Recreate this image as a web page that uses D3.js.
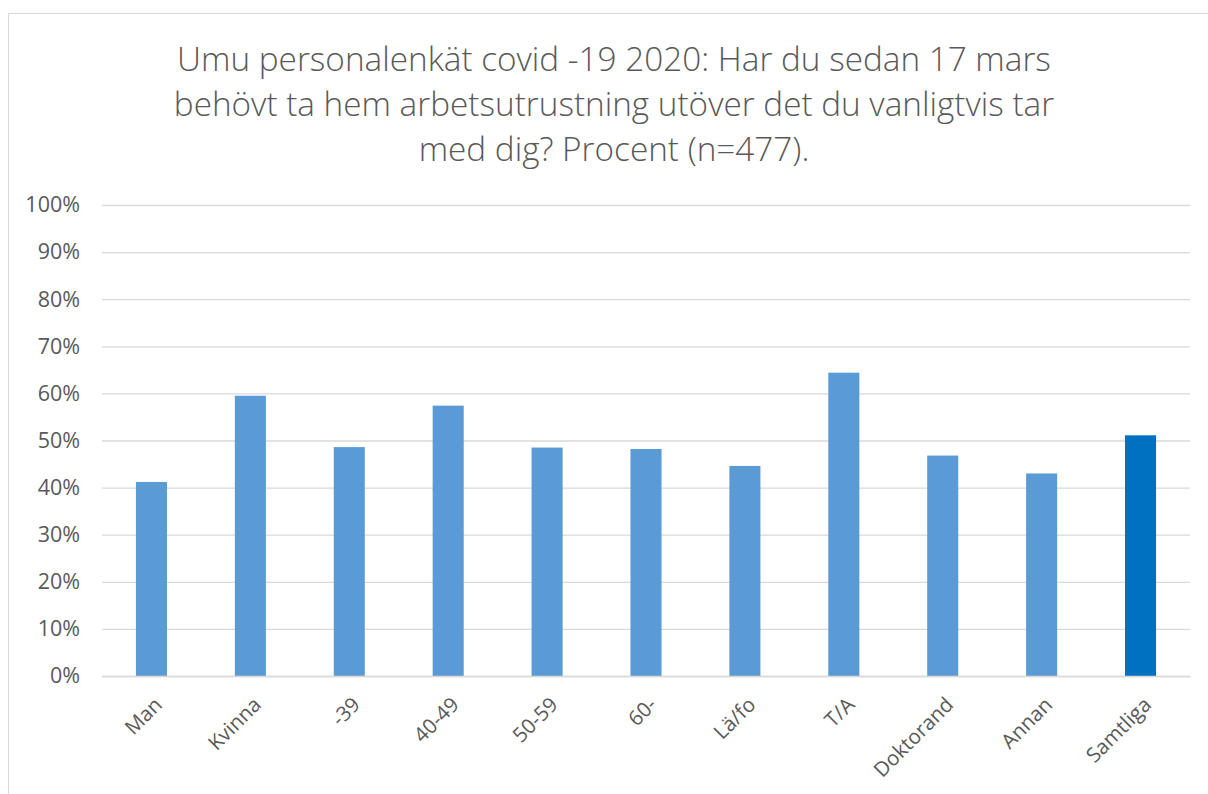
<!DOCTYPE html>
<html><head><meta charset="utf-8">
<script src="https://cdn.jsdelivr.net/npm/d3@7"></script>
<style>body{margin:0;background:#fff}svg{display:block}</style>
</head><body>
<script>
const categories = ["Man","Kvinna","-39","40-49","50-59","60-","Lä/fo","T/A","Doktorand","Annan","Samtliga"];
const values = [41.2,59.5,48.6,57.4,48.5,48.2,44.6,64.4,46.8,43.0,51.1];
const tickValues = [0,10,20,30,40,50,60,70,80,90,100];
const titleLines = ["Umu personalenkät covid -19 2020: Har du sedan 17 mars","behövt ta hem arbetsutrustning utöver det du vanligtvis tar","med dig? Procent (n=477)."];

const W=1208,H=794;
const svg=d3.select("body").append("svg").attr("width",W).attr("height",H);
svg.append("rect").attr("x",8.5).attr("y",13.5).attr("width",1210).attr("height",800).attr("fill","#fff").attr("stroke","#d9d9d9");

const m={left:102,right:1190,top:205,bottom:676};
const x=d3.scaleBand().domain(categories).range([m.left,m.right]).paddingInner(0.686).paddingOuter(0.343);
const y=d3.scaleLinear().domain([0,100]).range([m.bottom,m.top]);

const font="'Open Sans', Lato, sans-serif";
const tg=svg.append("g");
titleLines.forEach((t,i)=>{
  tg.append("text").attr("x",614).attr("y",71+i*45).attr("text-anchor","middle")
    .attr("font-family",font).attr("font-weight",300).attr("font-size",33.3).attr("fill","#595959").text(t);
});

const ya=svg.append("g").attr("transform",`translate(${m.left},0)`)
  .call(d3.axisLeft(y).tickValues(tickValues).tickSize(-(m.right-m.left)).tickFormat(d=>d+"%"));
ya.select(".domain").remove();
ya.selectAll(".tick line").attr("stroke","#d9d9d9").attr("stroke-width",1.3);
ya.selectAll(".tick text").attr("x",-22).attr("font-family",font).attr("font-size",21.5).attr("fill","#595959");

svg.selectAll("rect.bar").data(values).join("rect").attr("class","bar")
  .attr("x",(d,i)=>x(categories[i])).attr("width",x.bandwidth())
  .attr("y",d=>y(d)).attr("height",d=>y(0)-y(d))
  .attr("fill",(d,i)=>categories[i]==="Samtliga"?"#0070C0":"#5B9BD5");

const xa=svg.append("g").attr("transform",`translate(0,${m.bottom})`)
  .call(d3.axisBottom(x).tickSize(0));
xa.select(".domain").attr("stroke","#d9d9d9").attr("stroke-width",1.3);
xa.selectAll(".tick text").attr("font-family",font).attr("font-size",20.5).attr("fill","#595959")
  .attr("text-anchor","end").attr("dy",0).attr("y",0)
  .attr("transform","translate(12,30) rotate(-45)");
</script>
</body></html>
